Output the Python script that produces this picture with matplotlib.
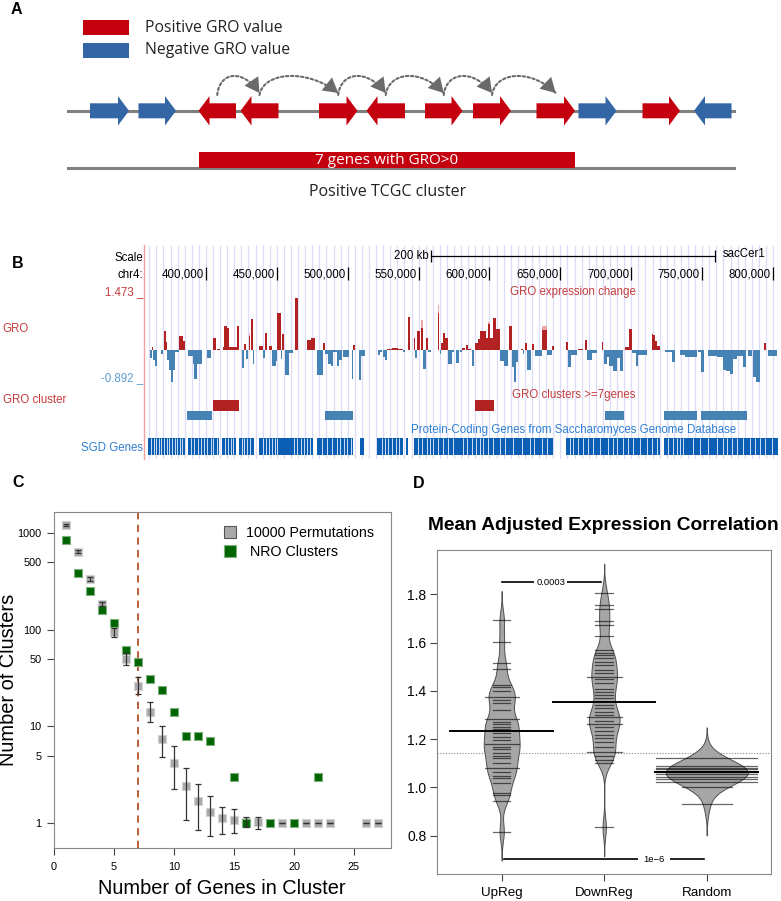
import numpy as np
import matplotlib
matplotlib.use("Agg")
import matplotlib.pyplot as plt
from matplotlib.patches import Polygon, Rectangle, FancyArrowPatch
from matplotlib.lines import Line2D
from matplotlib.path import Path

W, H = 781, 901
plt.rcParams["font.family"] = ["Liberation Sans", "DejaVu Sans"]

# ---------------- panel A: schematic genes (positions in panel pixels) ----
gene_start = [90, 138.5, 198.5, 240.5, 319, 366.5, 425, 473, 536.5, 578.5, 642.5, 694]
gene_end = [129, 176, 236, 278.5, 357.5, 405, 462.5, 511, 575, 616.5, 680, 731.5]
gene_strand = [1, 1, -1, -1, 1, -1, 1, 1, 1, 1, 1, -1]
gene_gro = [-1, -1, 1, 1, 1, 1, 1, 1, 1, -1, 1, -1]
cluster_genes = (2, 8)          # first / last gene of the positive cluster
cluster_label = "7 genes with GRO>0"

# ---------------- panel B: genome browser (kb on chr4) --------------------
gro_start = [360.5, 362.1, 362.8, 364.0, 368.0, 370.4, 371.3, 372.3, 374.1, 375.3,
             376.5, 378.1, 381.2, 383.5, 387.5, 390.6, 391.8, 393.4, 400.5, 404.7,
             408.0, 411.8, 413.0, 415.1, 416.5, 421.9, 425.4, 426.8, 428.2, 430.3,
             431.7, 432.9, 437.6, 440.5, 441.9, 444.2, 446.8, 449.4, 450.3, 452.7,
             453.6, 456.0, 458.8, 462.8, 471.0, 473.8, 478.5, 482.3, 483.9, 486.3,
             487.9, 489.8, 492.2, 494.1, 496.9, 502.8, 503.9, 507.9, 509.3, 521.1,
             522.8, 525.1, 526.3, 527.5, 531.0, 535.2, 539.2, 542.3, 546.5, 547.4,
             548.6, 551.4, 553.3, 555.4, 556.9, 563.4, 564.8, 565.8, 567.2, 568.6,
             570.5, 573.8, 576.1, 579.2, 580.4, 583.2, 584.6, 587.9, 589.8, 592.1,
             593.5, 597.3, 598.7, 600.6, 602.5, 604.4, 607.6, 610.5, 613.8, 615.6,
             617.5, 618.5, 622.2, 623.4, 625.0, 626.5, 629.8, 632.1, 637.3, 640.6,
             644.3, 653.7, 655.6, 657.5, 662.7, 667.4, 668.5, 672.1, 679.1, 680.8,
             682.7, 684.5, 686.9, 689.7, 692.1, 695.6, 698.6, 700.3, 703.4, 705.0,
             714.4, 715.6, 717.0, 718.4, 723.8, 728.5, 734.4, 737.9, 741.5, 747.3,
             749.0, 754.4, 760.3, 765.0, 766.8, 769.7, 772.0, 774.4, 779.1, 782.6,
             786.1, 788.0, 793.6, 796.7]
gro_end = [361.7, 362.8, 364.0, 365.2, 369.4, 371.5, 372.3, 374.1, 375.3, 376.5,
           378.1, 381.2, 384.0, 385.2, 390.6, 391.8, 393.4, 397.0, 403.3, 407.1,
           409.9, 413.0, 415.1, 416.5, 421.6, 423.5, 426.8, 428.2, 429.6, 431.3,
           432.9, 433.9, 440.5, 441.9, 443.3, 446.6, 449.4, 450.3, 452.7, 453.6,
           455.2, 458.8, 461.6, 465.1, 473.8, 476.7, 482.3, 483.9, 486.3, 487.9,
           489.8, 492.2, 494.1, 495.7, 501.1, 503.9, 505.1, 509.3, 512.4, 522.8,
           523.9, 526.3, 527.5, 531.0, 535.2, 539.2, 540.4, 543.9, 547.4, 548.6,
           551.0, 553.1, 555.4, 556.9, 558.7, 564.4, 565.8, 567.2, 568.6, 570.5,
           573.8, 575.2, 578.5, 580.4, 582.7, 584.6, 587.0, 589.3, 592.1, 593.5,
           597.3, 598.7, 600.6, 602.5, 604.4, 607.6, 610.5, 612.8, 615.6, 617.5,
           618.5, 620.3, 623.4, 624.6, 626.5, 629.3, 631.2, 636.8, 640.6, 643.9,
           645.7, 655.1, 657.5, 661.5, 666.2, 668.5, 672.1, 675.6, 680.3, 682.7,
           684.5, 686.9, 689.7, 692.1, 694.4, 698.6, 700.3, 703.4, 705.0, 710.9,
           715.6, 717.0, 718.4, 720.3, 728.5, 730.9, 737.9, 741.5, 746.1, 749.0,
           751.3, 760.3, 765.0, 766.8, 769.7, 772.0, 774.4, 779.1, 781.0, 784.9,
           788.0, 790.8, 795.1, 802.8]
gro_value = [-0.22, 0.09, -0.28, -0.44, -0.11, 0.52, 0.21, -0.28, -0.56, -0.90,
             -0.56, -0.07, 0.39, 0.24, -0.16, -0.40, -0.80, -0.40, -0.22, 0.33,
             0.03, 0.09, 0.68, 0.60, 0.09, 0.68, -0.51, 0.17, -0.25, 0.38,
             0.86, -0.39, 0.12, -0.22, 0.47, 0.10, -0.44, -0.30, 1.03, -0.26,
             0.45, -0.69, -0.09, 1.45, 0.28, 0.32, -0.69, 0.20, -0.11, -0.39,
             -0.46, -0.07, -0.46, -0.28, -0.19, -0.80, 0.15, -0.84, -0.16, -0.13,
             -0.06, -0.20, -0.28, 0.02, 0.06, 0.02, -0.07, 0.93, 0.32, -0.22,
             0.54, 0.60, -0.53, 0.32, -0.07, 1.02, -0.11, 0.20, 0.46, 0.33,
             -0.39, -0.07, -0.37, -0.07, 0.06, 0.14, 0.02, -0.44, 0.20, 0.31,
             0.52, 0.33, 0.72, 0.33, 0.89, 0.57, -0.32, -0.44, 0.66, -0.48,
             -0.90, -0.34, 0.03, -0.11, 0.20, -0.56, 0.17, -0.16, 0.56, -0.14,
             0.12, 0.21, -0.47, -0.13, 0.03, 0.28, -0.28, -0.09, 0.21, -0.40,
             -0.20, -0.46, -0.59, -0.22, -0.59, 0.09, 0.59, -0.09, -0.44, -0.13,
             0.45, 0.42, 0.24, 0.12, -0.05, -0.34, -0.14, -0.19, -0.20, -0.07,
             -0.62, -0.16, -0.19, -0.56, -0.59, -0.67, -0.25, -0.16, -0.48, -0.16,
             -0.75, -0.90, 0.20, -0.16]
# lighter maxima drawn behind some bars
gro_max_start = [430.3, 551.4, 563.4, 598.7, 637.3]
gro_max_end = [431.3, 553.1, 564.4, 600.6, 640.6]
gro_max_value = [0.46, 0.83, 1.26, 0.78, 0.67]
gro_view_max, gro_view_min = 1.473, -0.892

clus_pos_start = [404.7, 589.8]
clus_pos_end = [423.5, 603.4]
clus_neg_start = [386.8, 483.7, 681.3, 723.3, 749.2]
clus_neg_end = [404.4, 503.9, 694.9, 746.6, 781.9]

sgd_block_start = [359.3, 387.5, 411.1, 423.3, 437.6, 478.5, 508.6, 520.8, 540.9, 546.7, 654.0, 723.1]
sgd_block_end = [385.2, 409.4, 421.2, 433.9, 475.7, 503.9, 511.5, 539.2, 542.7, 645.0, 720.3, 803.5]
sgd_gene_breaks = [361.2, 363.1, 364.7, 366.6, 368.5, 370.4, 372.3, 373.9, 375.8, 377.9,
                   379.5, 381.4, 383.3, 389.4, 391.8, 394.6, 396.5, 398.6, 400.5, 403.3,
                   405.2, 407.5, 413.4, 415.8, 417.4, 419.3, 425.2, 427.0, 429.2, 431.0,
                   440.0, 442.3, 444.2, 446.3, 448.7, 450.3, 462.1, 464.4, 466.8, 469.1,
                   471.0, 473.4, 481.6, 485.1, 488.7, 492.2, 494.5, 497.4, 499.7, 502.1,
                   523.9, 526.3, 528.6, 531.0, 534.0, 536.4, 549.8, 552.1, 555.7, 558.0,
                   560.4, 563.9, 567.4, 570.9, 574.5, 581.5, 584.4, 587.4, 590.5, 593.3,
                   595.7, 599.2, 602.7, 607.4, 610.9, 616.8, 622.7, 628.6, 631.4, 636.8,
                   640.8, 656.8, 659.1, 662.7, 665.7, 669.7, 672.8, 678.0, 683.8, 687.4,
                   690.2, 694.4, 697.9, 701.5, 706.2, 710.9, 714.4, 717.9, 726.2, 729.7,
                   732.0, 734.4, 736.7, 743.8, 748.5, 754.4, 760.3, 765.0, 767.3, 770.8,
                   774.4, 779.1, 783.8, 787.3, 790.8, 794.4, 799.1]
ruler_ticks = [400, 450, 500, 550, 600, 650, 700, 750, 800]
scale_bar_start, scale_bar_len = 559, 200

# ---------------- panel C: cluster size distribution ----------------------
perm_x = [1, 2, 3, 4, 5, 6, 7, 8, 9, 10, 11, 12, 13, 14, 15, 16, 17, 19, 21, 22, 23, 26, 27]
perm_mean = [1200, 636, 335, 182, 93.6, 49.6, 26.3, 14.1, 7.48, 4.23, 2.41, 1.70,
             1.31, 1.13, 1.09, 1.04, 1.02, 1, 1, 1, 1, 1, 1]
perm_low = [1170, 615, 320, 174, 84, 43, 21.5, 11.2, 4.88, 2.24, 1.08, 0.847,
            0.734, 0.776, 0.80, 0.91, 0.87, 1, 1, 1, 1, 1, 1]
perm_high = [1235, 660, 350, 192, 104, 56.8, 32, 17.7, 10.1, 6.27, 3.69, 2.55,
             1.91, 1.49, 1.39, 1.15, 1.15, 1, 1, 1, 1, 1, 1]
nro_x = [1, 2, 3, 4, 5, 6, 7, 8, 9, 10, 11, 12, 13, 15, 16, 18, 20, 22]
nro_count = [846, 386, 250, 160, 116, 61.5, 46, 31, 24, 14, 8, 8, 7, 3, 1, 1, 1, 3]
min_cluster_size = 7

# ---------------- panel D: bean plot --------------------------------------
groups = ["UpReg", "DownReg", "Random"]
up_vals = [1.694, 1.604, 1.514, 1.489, 1.424, 1.415, 1.401, 1.376, 1.362, 1.348,
           1.321, 1.282, 1.272, 1.263, 1.252, 1.241, 1.224, 1.210, 1.196, 1.180,
           1.169, 1.158, 1.144, 1.131, 1.120, 1.100, 1.082, 1.065, 1.047, 1.038,
           1.017, 0.978, 0.968, 0.945, 0.817]
up_counts = [1, 1, 1, 1, 1, 1, 1, 2, 1, 1, 1, 2, 1, 1, 1, 1, 1, 1, 1, 2,
             1, 1, 1, 1, 1, 1, 2, 1, 1, 1, 1, 1, 1, 1, 1]
down_vals = [1.807, 1.756, 1.738, 1.691, 1.673, 1.629, 1.569, 1.558, 1.549, 1.535,
             1.521, 1.507, 1.486, 1.473, 1.459, 1.448, 1.431, 1.410, 1.397, 1.383,
             1.369, 1.341, 1.328, 1.314, 1.300, 1.290, 1.276, 1.263, 1.249, 1.235,
             1.217, 1.203, 1.190, 1.169, 1.148, 1.130, 1.114, 1.102, 0.835]
down_counts = [1, 1, 1, 1, 1, 1, 1, 1, 1, 1, 1, 1, 1, 1, 2, 1, 1, 1, 1, 1,
               1, 1, 1, 1, 1, 2, 1, 2, 1, 1, 1, 1, 1, 1, 2, 1, 1, 1, 1]
rand_vals = [1.120, 1.090, 1.081, 1.075, 1.069, 1.062, 1.055, 1.044, 1.033, 1.021, 1.003, 0.930]
rand_counts = [2, 2, 2, 2, 2, 2, 2, 2, 2, 2, 1, 1]
group_means = [1.234, 1.355, 1.065]
overall_mean = 1.144
p_up_down = "0.0003"
p_up_random = "1e\u22126"

RED_A, BLUE_A = "#c4000f", "#3465a4"
RED_B, BLUE_B = "#b22222", "#4682b4"
TXT_RED, TXT_BLUE, SGD_BLUE = "#c43c3c", "#5a9bd0", "#0a5fb4"
A_FONT = ["Open Sans", "DejaVu Sans"]

fig = plt.figure(figsize=(W / 100, H / 100), dpi=100)


def px_axes(x0, y0, x1, y1):
    return fig.add_axes([x0 / W, 1 - y1 / H, (x1 - x0) / W, (y1 - y0) / H])


def ftext(x, y, s, **kw):
    return fig.text(x / W, 1 - y / H, s, **kw)


def fline(x0, y0, x1, y1, **kw):
    fig.add_artist(Line2D([x0 / W, x1 / W], [1 - y0 / H, 1 - y1 / H],
                          transform=fig.transFigure, **kw))


# panel letters
for lx, ly, letter in [(11, 13.5, "A"), (12, 268.3, "B"), (12, 486.7, "C"), (413, 488.3, "D")]:
    ftext(lx, ly, letter, fontsize=11.5, fontweight="bold", va="baseline")

# ======================= A =======================
ax_a = px_axes(0, 0, W, 205)
ax_a.set_xlim(0, W)
ax_a.set_ylim(205, 0)
ax_a.axis("off")

yc, bh, hh, hl = 110.8, 7.5, 14.7, 11
ax_a.plot([67.5, 734], [110.5, 110.5], color="#808080", lw=2.2, zorder=1)
for s, e, strand, sign in zip(gene_start, gene_end, gene_strand, gene_gro):
    if strand > 0:
        pts = [(s, yc - bh), (e - hl, yc - bh), (e - hl, yc - hh), (e, yc),
               (e - hl, yc + hh), (e - hl, yc + bh), (s, yc + bh)]
    else:
        pts = [(e, yc - bh), (s + hl, yc - bh), (s + hl, yc - hh), (s, yc),
               (s + hl, yc + hh), (s + hl, yc + bh), (e, yc + bh)]
    ax_a.add_patch(Polygon(pts, closed=True, color=RED_A if sign > 0 else BLUE_A,
                           lw=0, zorder=2))

# dotted hops between neighbouring genes of the cluster
centers = [(s + e) / 2 for s, e in zip(gene_start, gene_end)]
for i in range(cluster_genes[0], cluster_genes[1]):
    xa, xb = centers[i], centers[i + 1]
    dx = xb - xa
    hop = Path([(xa, 95), (xa + 0.05 * dx, 72), (xb - 0.4 * dx, 68), (xb, 93)],
               [Path.MOVETO, Path.CURVE4, Path.CURVE4, Path.CURVE4])
    ax_a.add_patch(FancyArrowPatch(path=hop, arrowstyle="-", color="#6a6a6a", lw=1.5,
                                   linestyle=(0, (1.2, 1.2)), zorder=3))
    # solid head on the same path
    ax_a.add_patch(FancyArrowPatch(path=hop, arrowstyle="-|>,head_length=1.05,head_width=0.6",
                                   mutation_scale=10, facecolor="#6a6a6a",
                                   edgecolor="none", lw=0, zorder=3))

for yy, col, lab in [(27.5, RED_A, "Positive GRO value"), (50.5, BLUE_A, "Negative GRO value")]:
    ax_a.add_patch(Rectangle((82.5, yy - 7.5), 46.5, 15, color=col, lw=0))
    ax_a.text(145, yy, lab, fontsize=11.3, va="center", ha="left",
              family=A_FONT, color="#222222")

ax_a.plot([67.5, 734], [168, 168], color="#808080", lw=2.2, zorder=1)
cs, ce = gene_start[cluster_genes[0]], gene_end[cluster_genes[1]]
ax_a.add_patch(Rectangle((cs, 152), ce - cs, 15.5, color=RED_A, lw=0, zorder=2))
ax_a.text((cs + ce) / 2, 160.5, cluster_label, color="white", fontsize=11,
          ha="center", va="center", family=A_FONT, zorder=3)
ax_a.text(388, 191.5, "Positive TCGC cluster", fontsize=11.5, ha="center", va="center",
          family=A_FONT, color="#222222")

# ======================= B =======================
kb0, kb1 = 357.0, 803.5
bfs = 8.3
bg = px_axes(145, 245, 778, 459)
bg.set_xlim(kb0, kb1)
bg.set_ylim(0, 1)
bg.axis("off")
bg.vlines(np.arange(360, 805, 5), 0, 1, color="#dcdcf8", lw=0.9, zorder=0)
fline(143.7, 245, 143.7, 459, color="#f4a0a0", lw=1)

ax_r = px_axes(145, 245, 778, 283)
ax_r.set_xlim(kb0, kb1)
ax_r.set_ylim(283, 245)
ax_r.axis("off")
for t in ruler_ticks:
    ax_r.vlines(t, 266.7, 280, color="black", lw=0.9)
    ax_r.annotate(f"{t * 1000:,}", (t, 277.7), xytext=(-1.5, 0), textcoords="offset points",
                  ha="right", va="baseline", fontsize=bfs)
ax_r.plot([scale_bar_start, scale_bar_start + scale_bar_len], [255.7, 255.7], color="black", lw=0.9)
ax_r.vlines([scale_bar_start, scale_bar_start + scale_bar_len], 250, 261.5, color="black", lw=0.9)
ax_r.annotate(f"{scale_bar_len} kb", (scale_bar_start, 259), xytext=(-2, 0),
              textcoords="offset points", ha="right", va="baseline", fontsize=bfs)
ax_r.annotate("sacCer1", (scale_bar_start + scale_bar_len, 256.7), xytext=(5.5, 0),
              textcoords="offset points", ha="left", va="baseline", fontsize=bfs)
ftext(143, 261, "Scale", ha="right", va="baseline", fontsize=bfs)
ftext(143, 277.7, "chr4:", ha="right", va="baseline", fontsize=bfs)

ax_g = px_axes(145, 297, 778, 382)
ax_g.set_xlim(kb0, kb1)
ax_g.set_ylim(gro_view_min, gro_view_max)
ax_g.axis("off")
ax_g.bar(gro_max_start, gro_max_value, width=np.subtract(gro_max_end, gro_max_start),
         align="edge", color="#eaa8a8", lw=0)
ax_g.bar(gro_start, gro_value, width=np.subtract(gro_end, gro_start), align="edge",
         color=[RED_B if v > 0 else BLUE_B for v in gro_value], lw=0)
ftext(143.5, 295, f"{gro_view_max:.3f} _", ha="right", va="baseline", fontsize=bfs, color=TXT_RED)
ftext(143.5, 380.7, f"{gro_view_min:.3f} _", ha="right", va="baseline", fontsize=bfs, color=TXT_BLUE)
ftext(2.7, 332, "GRO", ha="left", va="baseline", fontsize=bfs, color=TXT_RED)
ftext(573, 295, "GRO expression change", ha="center", va="baseline", fontsize=bfs, color=TXT_RED)

ax_c2 = px_axes(145, 400, 778, 420)
ax_c2.set_xlim(kb0, kb1)
ax_c2.set_ylim(2, 0)
ax_c2.axis("off")
ax_c2.broken_barh(list(zip(clus_pos_start, np.subtract(clus_pos_end, clus_pos_start))),
                  (0, 1.05), color=RED_B, lw=0)
ax_c2.broken_barh(list(zip(clus_neg_start, np.subtract(clus_neg_end, clus_neg_start))),
                  (1.05, 0.95), color=BLUE_B, lw=0)
ftext(2.7, 402.7, "GRO cluster", ha="left", va="baseline", fontsize=bfs, color=TXT_RED)
ftext(573.5, 397.7, "GRO clusters >=7genes", ha="center", va="baseline", fontsize=bfs, color=TXT_RED)

ax_s = px_axes(145, 437.5, 778, 454.5)
ax_s.set_xlim(kb0, kb1)
ax_s.set_ylim(0, 1)
ax_s.axis("off")
ax_s.broken_barh(list(zip(sgd_block_start, np.subtract(sgd_block_end, sgd_block_start))),
                 (0, 1), color=SGD_BLUE, lw=0)
ax_s.vlines(sgd_gene_breaks, 0, 1, color="#cfe0f4", lw=0.7)
ftext(142.7, 451, "SGD Genes", ha="right", va="baseline", fontsize=bfs, color="#2f7fd1")
ftext(573.3, 433.3, "Protein-Coding Genes from Saccharomyces Genome Database",
      ha="center", va="baseline", fontsize=bfs, color="#2f7fd1")

# ======================= C =======================
ax = px_axes(53.5, 512, 390.5, 848)
ax.set_yscale("log")
ax.set_xlim(-0.04, 28.04)
ax.set_ylim(0.556, 1634)
ax.axvline(min_cluster_size, color="#b5532a", lw=1.3, ls=(0, (4, 3)), zorder=1)
pm = np.array(perm_mean)
ax.plot(perm_x, perm_mean, "s", ms=6.2, color="#a9a9a9", mec="#d3d3d3", mew=0.8, zorder=2)
ax.plot(nro_x, nro_count, "s", ms=6.2, color="#006400", mec="#7fae7f", mew=0.8, zorder=3)
ax.errorbar(perm_x, perm_mean, yerr=[pm - np.array(perm_low), np.array(perm_high) - pm],
            fmt="none", ecolor="#333333", elinewidth=0.9, capsize=2.4, capthick=0.9, zorder=4)
ax.set_yticks([1, 5, 10, 50, 100, 500, 1000])
ax.set_yticklabels(["1", "5", "10", "50", "100", "500", "1000"])
ax.yaxis.set_minor_locator(matplotlib.ticker.NullLocator())
ax.set_xticks([0, 5, 10, 15, 20, 25])
ax.tick_params(labelsize=7.8, length=4.8, width=0.8, color="#444444", pad=4)
ax.tick_params(axis="x", pad=5)
for sp in ax.spines.values():
    sp.set_color("#888888")
h1 = Line2D([], [], marker="s", ls="", ms=8, color="#a9a9a9", mec="#555555", mew=0.8)
h2 = Line2D([], [], marker="s", ls="", ms=8, color="#006400", mec="#7fae7f", mew=0.8)
ax.legend([h1, h2], ["10000 Permutations", " NRO Clusters"], loc="upper left",
          bbox_to_anchor=(0.47, 0.998), frameon=False, fontsize=10.3,
          handlelength=0.8, handletextpad=0.7, labelspacing=0.35)
ftext(222, 888, "Number of Genes in Cluster", ha="center", va="center", fontsize=14.4)
ftext(9, 680, "Number of Clusters", ha="center", va="center", rotation=90, fontsize=14.4)

# ======================= D =======================
ax = px_axes(437.3, 550, 770.7, 874.3)
ax.set_xlim(0.372, 3.624)
ax.set_ylim(0.64, 1.984)
ax.axhline(overall_mean, color="#888888", lw=0.8, ls=(0, (1, 1.5)), zorder=1)


def kde(vals, weights, grid, bw):
    z = (grid[:, None] - np.asarray(vals)[None, :]) / bw
    return (np.exp(-0.5 * z ** 2) * np.asarray(weights, float)).sum(axis=1)


bean_data = [(up_vals, up_counts, 0.04, 0.175, 0.165),
             (down_vals, down_counts, 0.04, 0.15, 0.17),
             (rand_vals, rand_counts, 0.043, 0.40, 0.49)]
for i, (vals, counts, bw, half_w, line_len) in enumerate(bean_data):
    pos = i + 1
    grid = np.linspace(min(vals) - 3 * bw, max(vals) + 3 * bw, 400)
    d = kde(vals, counts, grid, bw)
    d = d / d.max() * half_w
    ax.fill_betweenx(grid, pos - d, pos + d, facecolor="#a6a6a6", edgecolor="#505050",
                     lw=0.7, zorder=2)
    for v, c in zip(vals, counts):
        ax.plot([pos - line_len * c / 2, pos + line_len * c / 2], [v, v],
                color="black", alpha=0.6, lw=0.9, zorder=3)
    ax.plot([pos - 0.5, pos + 0.5], [group_means[i]] * 2, color="black", lw=1.4, zorder=4)

ax.plot([1.0, 1.97], [1.85, 1.85], color="black", lw=1.2, zorder=4)
ax.text(1.48, 1.85, p_up_down, ha="center", va="center", fontsize=6.8, zorder=5,
        bbox=dict(facecolor="white", edgecolor="none", pad=1.5))
ax.plot([1.02, 2.97], [0.702, 0.702], color="black", lw=1.2, zorder=4)
ax.text(2.486, 0.702, p_up_random, ha="center", va="center", fontsize=6.8, zorder=5,
        bbox=dict(facecolor="white", edgecolor="none", pad=4))
ax.set_xticks([1, 2, 3])
ax.set_xticklabels(groups)
ax.set_yticks([0.8, 1.0, 1.2, 1.4, 1.6, 1.8])
ax.tick_params(axis="y", labelsize=10, length=4.8, width=0.8, color="#444444", pad=3)
ax.tick_params(axis="x", labelsize=9.6, length=4.8, width=0.8, color="#444444", pad=4)
for sp in ax.spines.values():
    sp.set_color("#888888")
ftext(603, 525, "Mean Adjusted Expression Correlation", ha="center", va="center",
      fontsize=13.8, fontweight="bold")

fig.savefig("out.png", dpi=100)
